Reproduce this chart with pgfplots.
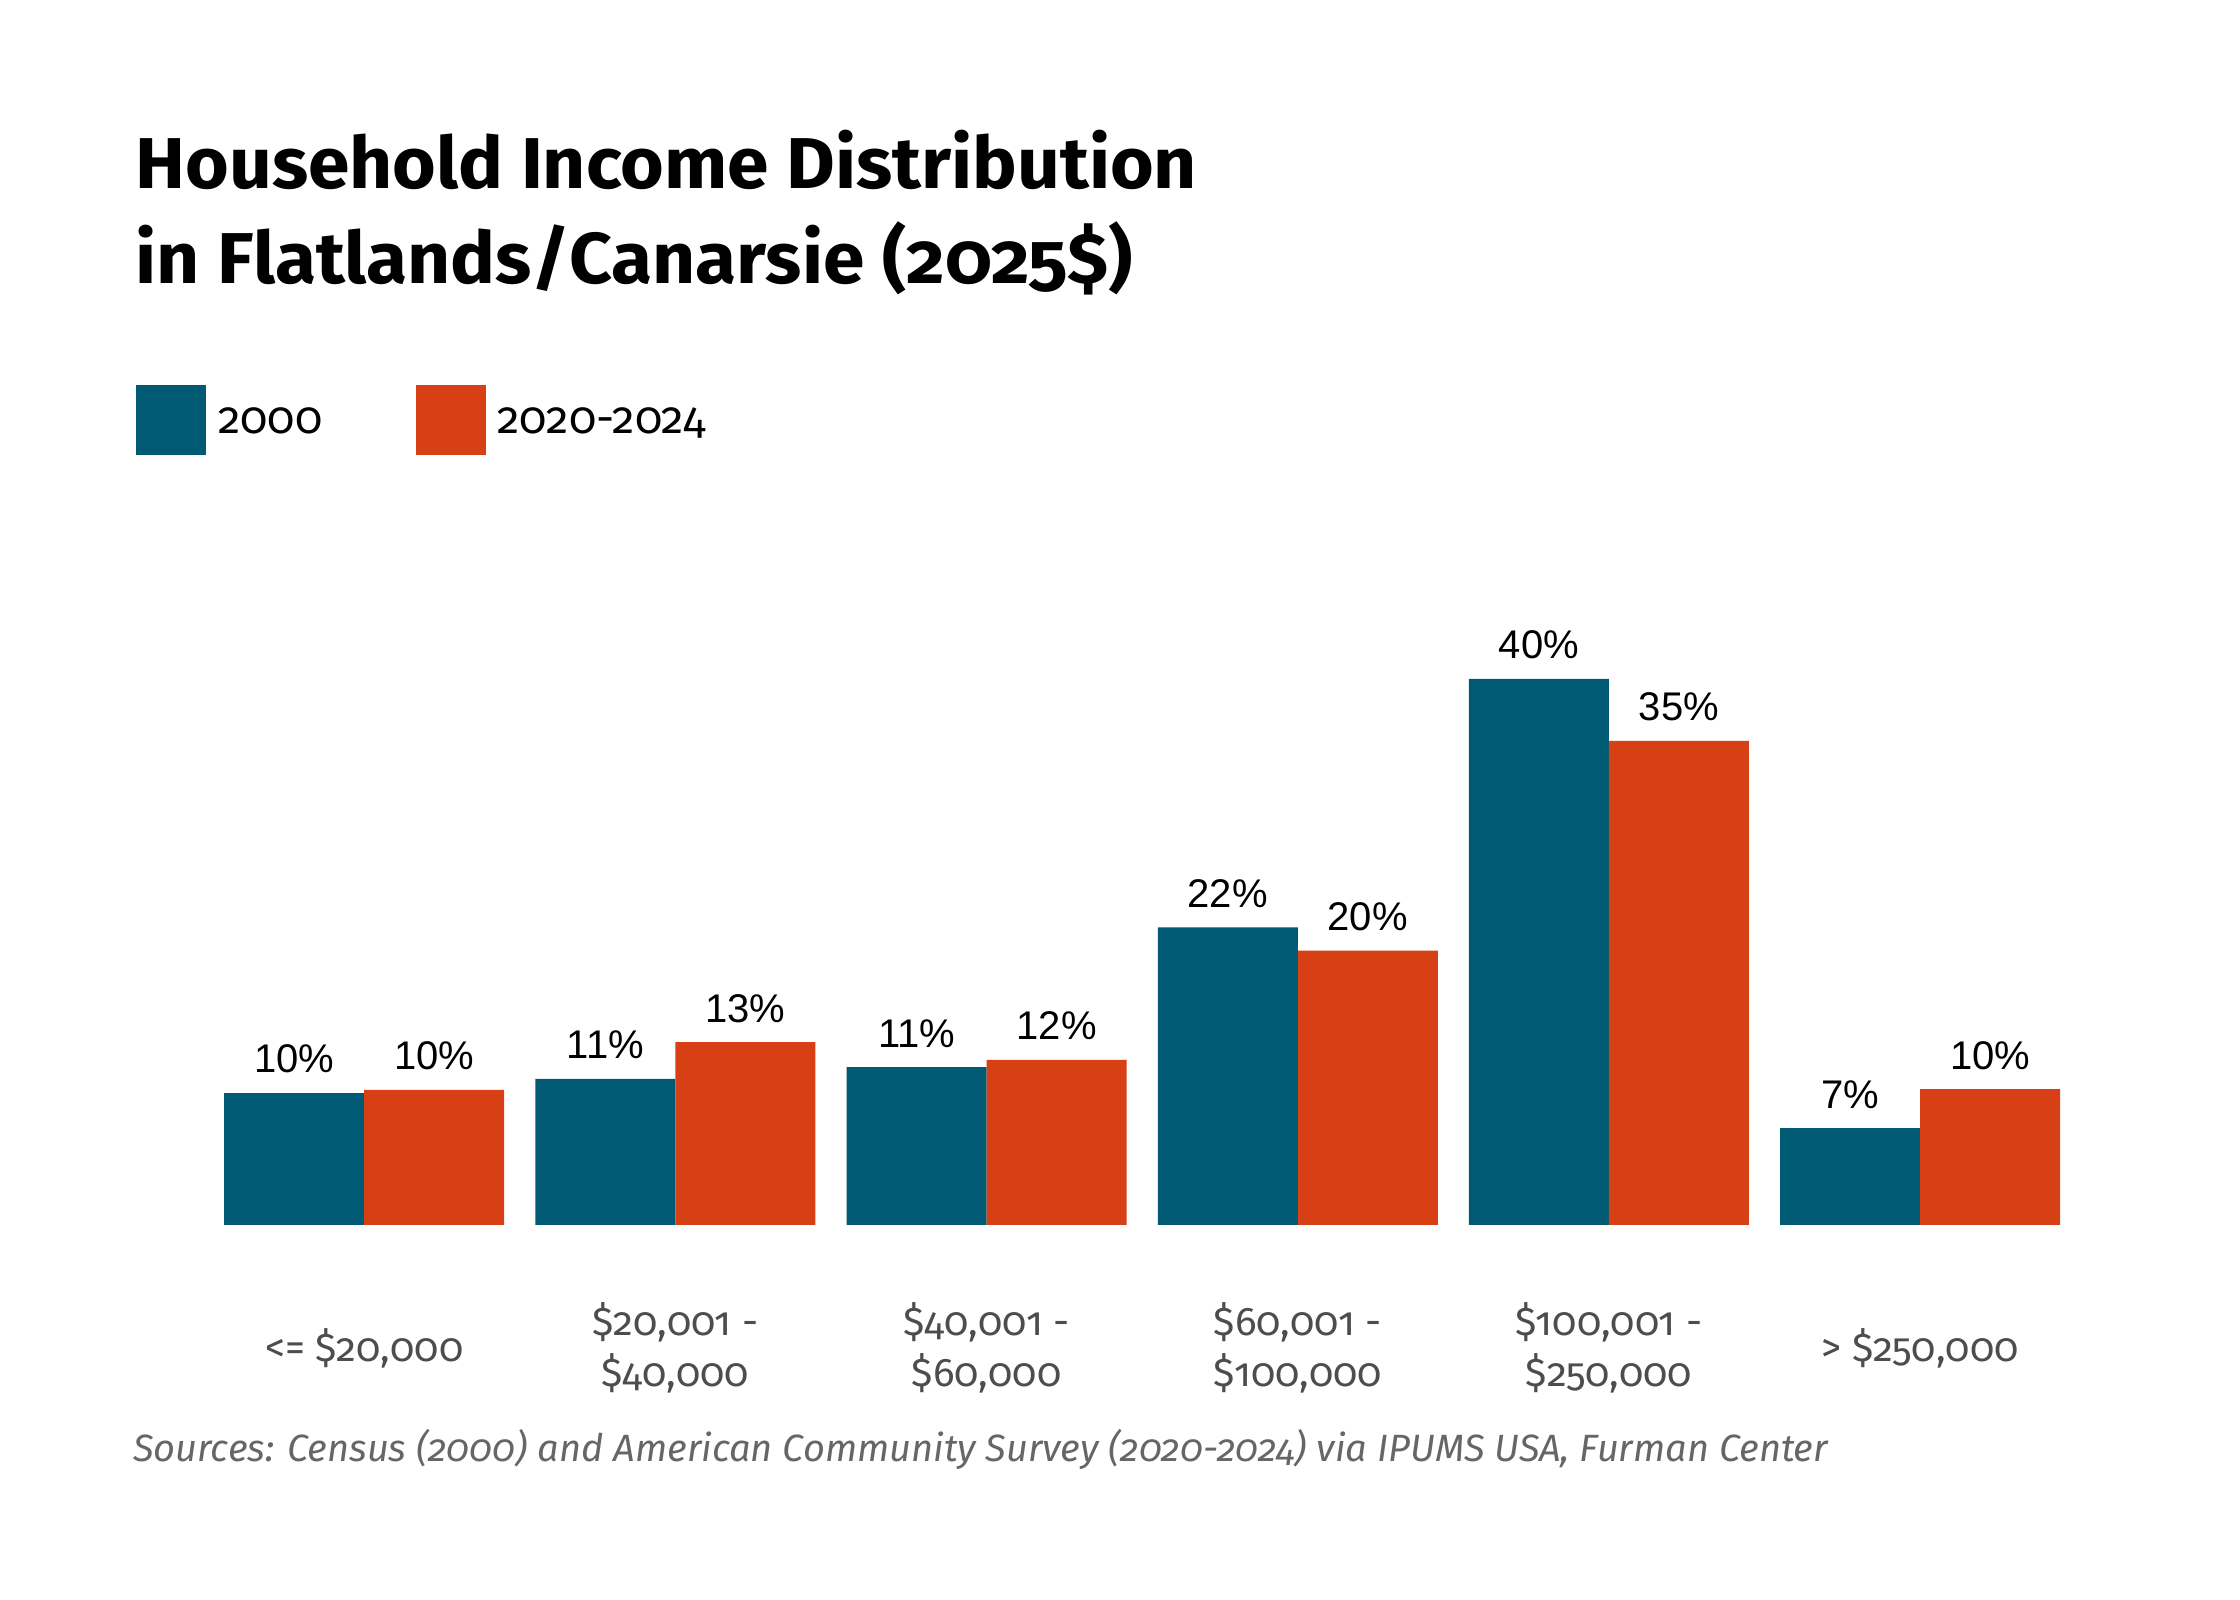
\documentclass[border=0pt]{standalone}
\usepackage{pgfplots}
\pgfplotsset{compat=1.18}
\usepackage{pgfplotstable}
\usepackage{fontspec}
\setmainfont{Fira Sans}[Numbers=OldStyle]
\newfontfamily\titlef{Fira Sans}[Numbers=OldStyle, FakeStretch=1.04]
\newfontfamily\arialf{Liberation Sans}
\definecolor{cblue}{HTML}{015A74}
\definecolor{corange}{HTML}{D64014}
\definecolor{tickgray}{HTML}{4D4D4D}
\definecolor{srcgray}{HTML}{666666}

\pgfplotstableread{
x y lab
0 9.67 10
1 10.7 11
2 11.57 11
3 21.8 22
4 40.0 40
5 7.1 7
}\dataA
\pgfplotstableread{
x y lab
0 9.89 10
1 13.4 13
2 12.09 12
3 20.1 20
4 35.46 35
5 9.96 10
}\dataB

\begin{document}
\begin{tikzpicture}[x=1pt,y=1pt]
\fill[white] (0,0) rectangle (2240,1600);
\path[use as bounding box] (0,0) rectangle (2240,1600);
\node[anchor=base west, inner sep=0pt, font=\titlef\fontsize{72}{84}\selectfont\bfseries] at (135.4,1411) {Household Income Distribution};
\node[anchor=base west, inner sep=0pt, font=\titlef\fontsize{72}{84}\selectfont\bfseries] at (135.4,1316) {in Flatlands/Canarsie (2025\$)};
\fill[cblue] (136.1,1145.3) rectangle (206.3,1215);
\node[anchor=base west, inner sep=0pt, font=\fontsize{45}{54}\selectfont] at (218.2,1166.7) {2000};
\fill[corange] (416,1145.3) rectangle (486.2,1215);
\node[anchor=base west, inner sep=0pt, font=\fontsize{45}{54}\selectfont] at (497.4,1166.7) {2020-2024};
\node[anchor=base west, inner sep=0pt, text=srcgray, font=\fontsize{38}{46}\selectfont\itshape] at (133,138.3) {Sources: Census (2000) and American Community Survey (2020-2024) via IPUMS USA, Furman Center};
\begin{axis}[
  at={(208.6pt,375pt)}, anchor=south west,
  scale only axis, width=1867.2pt, height=546pt,
  xmin=-0.5, xmax=5.5, ymin=0, ymax=40,
  ybar=0pt, bar width=140pt,
  axis line style={draw=none}, tick style={draw=none},
  ytick=\empty,
  xtick={0,1,2,3,4,5},
  xticklabels={{<= \$20,000},{\$20,001 -\\\$40,000},{\$40,001 -\\\$60,000},{\$60,001 -\\\$100,000},{\$100,001 -\\\$250,000},{> \$250,000}},
  xticklabel style={font=\fontsize{40}{51}\selectfont, text=tickgray, align=center, anchor=center, yshift=-119pt},
  clip=false,
  nodes near coords={\pgfplotspointmeta\%},
  point meta=explicit symbolic,
  every node near coord/.append style={font=\arialf\fontsize{40}{48}\selectfont, text=black, anchor=base, yshift=20pt, inner sep=0pt},
]
\addplot[fill=cblue, draw=none] table[x=x, y=y, meta=lab]{\dataA};
\addplot[fill=corange, draw=none] table[x=x, y=y, meta=lab]{\dataB};
\end{axis}
\end{tikzpicture}
\end{document}
